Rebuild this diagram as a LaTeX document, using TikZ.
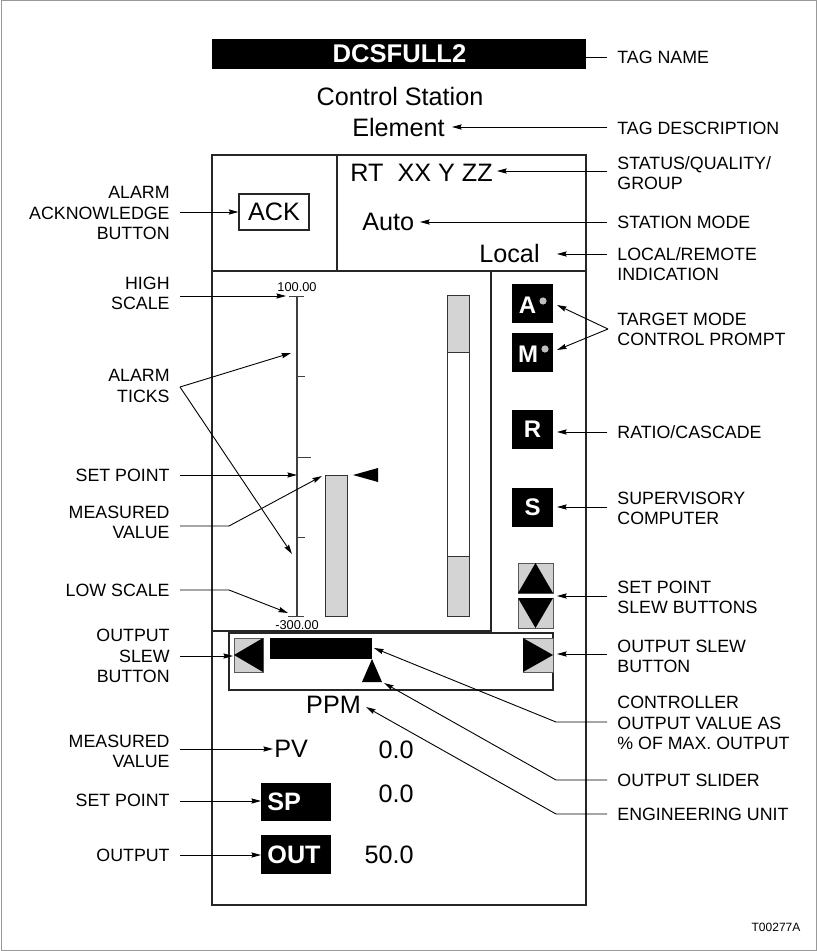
\documentclass[tikz,border=0pt]{standalone}
\usepackage{fontspec}
\setmainfont{Liberation Sans}
\usetikzlibrary{arrows.meta}

\newcommand{\lblsize}{\fontsize{8.9}{10.1}\selectfont}
\newcommand{\dispsize}{\fontsize{12.6}{15}\selectfont}
\newcommand{\keysize}{\fontsize{12.6}{15}\selectfont\bfseries}
\newcommand{\scalesize}{\fontsize{6.4}{7}\selectfont}

\tikzset{
  lbl/.style={font=\lblsize, inner sep=0pt, anchor=west, align=left},
  lblL/.style={font=\lblsize, inner sep=0pt, anchor=east, align=right},
  disp/.style={font=\dispsize, inner sep=0pt},
  ptr/.style={-{Stealth[length=4.8pt, width=2.6pt, inset=0.6pt]}, line width=0.45pt},
  keybox/.style={fill=black, inner sep=0pt, minimum width=20.5pt, minimum height=19.5pt},
  keytxt/.style={font=\fontsize{12}{14}\selectfont\bfseries, text=white, inner sep=0pt},
  panel/.style={draw=black!85, line width=0.7pt},
  slewbtn/.style={fill=black!18, draw=black!65, line width=0.5pt},
  barfill/.style={fill=black!17, draw=black!80, line width=0.5pt},
}

\begin{document}
\begin{tikzpicture}[x=0.5pt, y=-0.5pt]
  \useasboundingbox (0,0) rectangle (817,951);
  \draw[black!40, line width=0.5pt] (1,1) rectangle (816,950);
  \coordinate (rgap) at (607,0);
  \coordinate (lgap) at (180,0);

  % tag and description
  \node[fill=black, minimum width=187pt, minimum height=15pt, inner sep=0pt] (tagbar) at (399,54) {};
  \node[inner sep=0pt, font=\fontsize{12.8}{15}\selectfont\bfseries, text=white] (tag) at (399.5,54) {DCSFULL2};
  \node[disp] (desc1) at (400,96) {Control Station};
  \node[disp] (desc2) at (398.5,127) {Element};

  % station frame
  \draw[panel] (212,155) rectangle (586,905);
  \draw[panel] (212,271) -- (586,271);
  \draw[panel] (337,155) -- (337,271);
  \draw[panel] (491,271) -- (491,631) -- (212,631);

  % header fields
  \node[disp, draw=black!85, line width=0.6pt, minimum width=35pt, minimum height=18pt] (ack) at (274,212) {ACK};
  \node[disp, anchor=west] (status) at (350,173) {RT\ \ XX Y ZZ};
  \node[disp, anchor=west] (mode) at (362,222) {Auto};
  \node[disp, anchor=east] (local) at (540,253) {Local};

  % scale
  \draw[black!75, line width=0.6pt] (297,296) -- (297,616);
  \draw[black!75] (289,296) -- (304,296);
  \draw[black!75] (288,616) -- (304,616);
  \draw[black!75] (297,376) -- (305,376);
  \draw[black!75] (297,457) -- (311,457);
  \draw[black!75] (297,537) -- (305,537);
  \node[font=\scalesize, inner sep=0pt] (hiscale) at (297,287) {100.00};
  \node[font=\scalesize, inner sep=0pt] (loscale) at (297,625) {-300.00};

  % bars
  \draw[barfill] (325,475) rectangle (347,616);
  \fill (353,475) -- (378,468) -- (378,482) -- cycle;
  \draw[barfill] (447,296) rectangle (469,353);
  \draw[black!80, line width=0.5pt] (447,353) rectangle (469,556);
  \draw[barfill] (447,556) rectangle (469,616);

  % mode keys
  \node[keybox] (abtn) at (532.5,303.5) {};
  \node[keytxt] (akey) at (527.5,305) {A};
  \fill[black!25] (543,301) circle (1.8pt);
  \node[keybox] (mbtn) at (532.5,352.5) {};
  \node[keytxt] (mkey) at (528,354) {M};
  \fill[black!25] (545,349) circle (1.8pt);
  \node[keybox, keytxt] (rbtn) at (532.5,429.5) {R};
  \node[keybox, keytxt] (sbtn) at (532.5,507.5) {S};

  % set point slew
  \draw[slewbtn] (518,563) rectangle (553,593);
  \fill (535.5,563) -- (553,593) -- (518,593) -- cycle;
  \draw[slewbtn] (518,598) rectangle (553,628);
  \fill (518,598) -- (553,598) -- (535.5,628) -- cycle;

  % output slew
  \draw[panel, line width=0.6pt] (229,633) rectangle (553,690);
  \draw[slewbtn] (234,638) rectangle (263,672);
  \fill (234,655) -- (263,638) -- (263,672) -- cycle;
  \draw[slewbtn] (523,638) rectangle (553,672);
  \fill (553,655) -- (523,638) -- (523,672) -- cycle;
  \fill (270,638) rectangle (372,659);
  \fill (372,659) -- (382,682) -- (362,682) -- cycle;
  \node[disp] (unit) at (333.5,705) {PPM};

  % values
  \node[disp, anchor=west] (pv) at (274,749) {PV};
  \node[keybox, minimum width=35pt, minimum height=19pt] (spbox) at (296,802) {};
  \node[inner sep=0pt, font=\keysize, text=white, anchor=west] (sp) at (267,802) {SP};
  \node[keybox, minimum width=35pt, minimum height=19.5pt] (outbox) at (296,854.5) {};
  \node[inner sep=0pt, font=\keysize, text=white, anchor=west] (out) at (267,855) {OUT};
  \node[disp, anchor=east] (pvval) at (414,750) {0.0};
  \node[disp, anchor=east] (spval) at (414,794) {0.0};
  \node[disp, anchor=east] (outval) at (414,855) {50.0};

  \node[font=\fontsize{6}{7}\selectfont, inner sep=0pt] (figno) at (776,927) {T00277A};

  % right labels
  \node[lbl] (tagl) at (617,57) {TAG NAME};
  \node[lbl] (descl) at (617,128) {TAG DESCRIPTION};
  \node[lbl] (statl) at (617,173) {STATUS/QUALITY/\\GROUP};
  \node[lbl] (model) at (617,222) {STATION MODE};
  \node[lbl] (locl) at (617,264) {LOCAL/REMOTE\\INDICATION};
  \node[lbl] (tgtl) at (617,329.5) {TARGET MODE\\CONTROL PROMPT};
  \node[lbl] (rcl) at (617,432) {RATIO/CASCADE};
  \node[lbl] (supl) at (617,508) {SUPERVISORY\\COMPUTER};
  \node[lbl] (spsl) at (617,597) {SET POINT\\SLEW BUTTONS};
  \node[lbl] (osl) at (617,656) {OUTPUT SLEW\\BUTTON};
  \node[lbl] (ctll) at (617,723) {CONTROLLER\\OUTPUT VALUE AS\\\% OF MAX. OUTPUT};
  \node[lbl] (slidl) at (617,780) {OUTPUT SLIDER};
  \node[lbl] (engl) at (617,814) {ENGINEERING UNIT};

  % left labels
  \node[lblL] (ackl) at (170,213) {ALARM\\ACKNOWLEDGE\\BUTTON};
  \node[lblL] (highl) at (170,293) {HIGH\\SCALE};
  \node[lblL] (alrml) at (170,386) {ALARM\\TICKS};
  \node[lblL] (setl) at (170,475) {SET POINT};
  \node[lblL] (measl) at (170,522) {MEASURED\\VALUE};
  \node[lblL] (lowl) at (170,590) {LOW SCALE};
  \node[lblL] (oslwl) at (170,656) {OUTPUT\\SLEW\\BUTTON};
  \node[lblL] (pvl) at (170,751) {MEASURED\\VALUE};
  \node[lblL] (spl) at (170,800) {SET POINT};
  \node[lblL] (outl) at (170,855) {OUTPUT};

  % pointer ends
  \coordinate (tagtip) at (472,57);
  \coordinate (desctip) at (452,127);
  \coordinate (stattip) at (497,171);
  \coordinate (modetip) at (420,222);
  \coordinate (loctip) at (557,254);
  \coordinate (tgtjoin) at (608,329);
  \coordinate (atip) at (557,305);
  \coordinate (mtip) at (557,350);
  \coordinate (rtip) at (557,432);
  \coordinate (stip) at (557,507);
  \coordinate (spstip) at (557,596);
  \coordinate (ostip) at (557,654);
  \coordinate (ctlbend) at (556,722);
  \coordinate (ctltip) at (374,648);
  \coordinate (slidbend) at (556,780);
  \coordinate (slidtip) at (384,683);
  \coordinate (engbend) at (556,814);
  \coordinate (engtip) at (366,707);
  \coordinate (hightip) at (286,296);
  \coordinate (alrmjoin) at (180,387);
  \coordinate (alrmtip1) at (291,353);
  \coordinate (alrmtip2) at (292,554);
  \coordinate (settip) at (297,475);
  \coordinate (measbend) at (229,526);
  \coordinate (meastip) at (322,476);
  \coordinate (lowbend) at (229,590);
  \coordinate (lowtip) at (288,613);
  \coordinate (oslwtip) at (233,656);
  \coordinate (pvtip) at (273,749);
  \coordinate (sptip) at (261,801);
  \coordinate (outtip) at (261,855);

  % right pointers
  \draw[ptr] (rgap |- tagtip) -- (tagtip);
  \draw[ptr] (rgap |- desctip) -- (desctip);
  \draw[ptr] (rgap |- stattip) -- (stattip);
  \draw[ptr] (rgap |- modetip) -- (modetip);
  \draw[ptr] (rgap |- loctip) -- (loctip);
  \draw[ptr] (tgtjoin) -- (atip);
  \draw[ptr] (tgtjoin) -- (mtip);
  \draw[ptr] (rgap |- rtip) -- (rtip);
  \draw[ptr] (rgap |- stip) -- (stip);
  \draw[ptr] (rgap |- spstip) -- (spstip);
  \draw[ptr] (rgap |- ostip) -- (ostip);
  \draw[ptr] (rgap |- ctlbend) -- (ctlbend) -- (ctltip);
  \draw[ptr] (rgap |- slidbend) -- (slidbend) -- (slidtip);
  \draw[ptr] (rgap |- engbend) -- (engbend) -- (engtip);

  % left pointers
  \draw[ptr] (lgap |- ack.west) -- (ack.west);
  \draw[ptr] (lgap |- hightip) -- (hightip);
  \draw[ptr] (alrmjoin) -- (alrmtip1);
  \draw[ptr] (alrmjoin) -- (alrmtip2);
  \draw[ptr] (lgap |- settip) -- (settip);
  \draw[ptr] (lgap |- measbend) -- (measbend) -- (meastip);
  \draw[ptr] (lgap |- lowbend) -- (lowbend) -- (lowtip);
  \draw[ptr] (lgap |- oslwtip) -- (oslwtip);
  \draw[ptr] (lgap |- pvtip) -- (pvtip);
  \draw[ptr] (lgap |- sptip) -- (sptip);
  \draw[ptr] (lgap |- outtip) -- (outtip);
\end{tikzpicture}
\end{document}
